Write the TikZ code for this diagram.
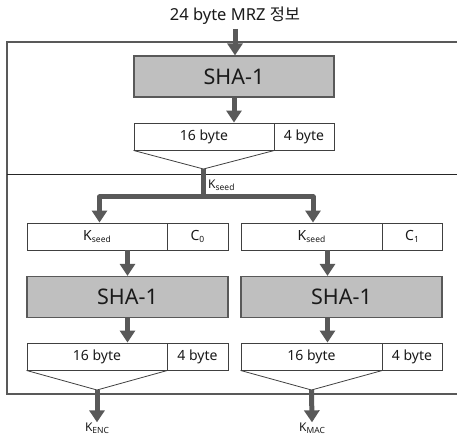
\documentclass[tikz,border=0pt]{standalone}
\usepackage{fontspec}
\setmainfont{Noto Sans}
\newfontfamily\krfont{Noto Sans CJK KR}
\usetikzlibrary{arrows.meta,calc}
\definecolor{arrgray}{HTML}{595959}
\definecolor{shafill}{HTML}{BFBFBF}
\definecolor{boxline}{HTML}{404040}
\definecolor{txt}{HTML}{1A1A1A}
\tikzset{
  cell/.style={draw=boxline,line width=0.9pt,fill=white,inner sep=0pt,minimum height=27pt,font=\fontsize{14pt}{16pt}\selectfont,text=txt},
  shabox/.style={draw=arrgray,line width=1.2pt,fill=shafill,inner sep=0pt,minimum height=41pt,minimum width=201pt,font=\fontsize{21.5pt}{23pt}\selectfont,text=txt},
  thick arrow/.style={draw=arrgray,line width=5pt,-{Triangle[width=15pt,length=12pt]}},
  thick line/.style={draw=arrgray,line width=5pt},
  funnel/.style={draw=boxline,line width=0.8pt},
  frameline/.style={draw=arrgray,line width=1.3pt},
  divline/.style={draw=black!85,line width=1pt},
  klabel/.style={inner sep=0pt,font=\fontsize{12pt}{14pt}\selectfont,text=txt},
}
\newcommand{\Ksub}[1]{K\raisebox{-0.35ex}{\fontsize{8.5pt}{9pt}\selectfont #1}}
\begin{document}
\begin{tikzpicture}[x=1pt,y=-1pt]
\useasboundingbox (0,0) rectangle (457,435);
% frame
\draw[frameline] (457,42) -- (7,42) -- (7,394) -- (457,394);
\draw[divline] (7,175) -- (457,175);
% title
\node[inner sep=0pt,font=\fontsize{16.5pt}{18pt}\selectfont,text=txt] (title) at (235,16) {24 byte MRZ {\krfont 정보}};
% top block
\node[shabox,minimum width=200pt] (sha0) at (234,76.5) {SHA-1};
\node[cell,minimum width=140pt] (t16) at (204,136.5) {16 byte};
\node[cell,minimum width=60pt] (t4) at (304,136.5) {4 byte};
\coordinate (tv) at (203.5,169);
\draw[funnel] (t16.south west) -- (tv) -- (t16.south east);
\draw[thick arrow] (235,29) -- (sha0.north -| 235,0);
\draw[thick arrow] (sha0.south) -- (sha0.south |- t16.north);
% split
\coordinate (sL) at (99.5,197);
\coordinate (sR) at (313,197);
% left column
\node[cell,minimum width=140pt] (kL) at (97,236.5) {\Ksub{seed}};
\node[cell,minimum width=61pt] (c0) at (197.5,236.5) {C\raisebox{-0.35ex}{\fontsize{8.5pt}{9pt}\selectfont 0}};
\node[shabox] (shaL) at (127.5,297) {SHA-1};
\node[cell,minimum width=140pt] (oL16) at (97,356.5) {16 byte};
\node[cell,minimum width=61pt] (oL4) at (197.5,356.5) {4 byte};
% right column
\node[cell,minimum width=141pt] (kR) at (311.5,236.5) {\Ksub{seed}};
\node[cell,minimum width=60pt] (c1) at (412,236.5) {C\raisebox{-0.35ex}{\fontsize{8.5pt}{9pt}\selectfont 1}};
\node[shabox] (shaR) at (341.5,297) {SHA-1};
\node[cell,minimum width=141pt] (oR16) at (311.5,356.5) {16 byte};
\node[cell,minimum width=60pt] (oR4) at (412,356.5) {4 byte};
% kseed split connectors
\draw[thick line,line join=round] (tv) -- (tv |- sL);
\draw[thick arrow,line join=round] (tv |- sL) -- (sL) -- (sL |- kL.north);
\draw[thick arrow,line join=round] (tv |- sR) -- (sR) -- (sR |- kR.north);
\node[klabel,anchor=west] (kseed) at (208,185) {\Ksub{seed}};
% column arrows
\draw[thick arrow] (shaL.north |- kL.south) -- (shaL.north);
\draw[thick arrow] (shaL.south) -- (shaL.south |- oL16.north);
\coordinate (rx) at (327.5,0);
\draw[thick arrow] (rx |- kR.south) -- (rx |- shaR.north);
\draw[thick arrow] (rx |- shaR.south) -- (rx |- oR16.north);
% output funnels
\coordinate (vL) at (97,390);
\coordinate (vR) at (311.5,390);
\draw[funnel] (oL16.south west) -- (vL) -- (oL16.south east);
\draw[funnel] (oR16.south west) -- (vR) -- (oR16.south east);
\node[klabel] (kenc) at (97,428) {\Ksub{ENC}};
\node[klabel] (kmac) at (312,428) {\Ksub{MAC}};
\draw[thick arrow] (vL) -- (kenc.north);
\draw[thick arrow] (vR) -- (kmac.north);
\end{tikzpicture}
\end{document}
